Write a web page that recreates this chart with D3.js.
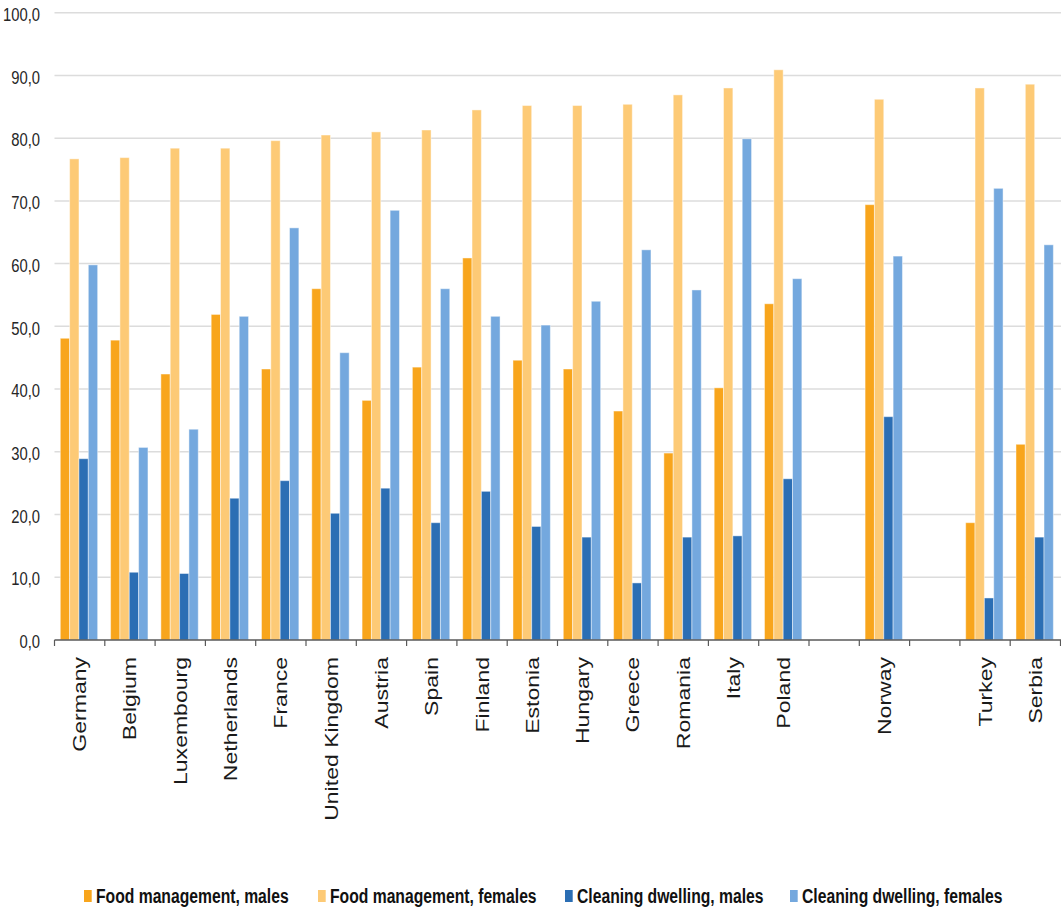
<!DOCTYPE html>
<html>
<head>
<meta charset="utf-8">
<script src="https://cdn.jsdelivr.net/npm/d3@7"></script>
<style>
  html, body { margin: 0; padding: 0; background: #fff; }
  svg { display: block; }
  text { font-family: "Liberation Sans", Arial, sans-serif; }
</style>
</head>
<body>
<svg id="chart" width="1061" height="911"></svg>
<script>
// ---- data ----
const categories = ["Germany","Belgium","Luxembourg","Netherlands","France","United Kingdom","Austria","Spain","Finland","Estonia","Hungary","Greece","Romania","Italy","Poland","","Norway","","Turkey","Serbia"];
const seriesNames = ["Food management, males","Food management, females","Cleaning dwelling, males","Cleaning dwelling, females"];
const foodMales      = [48.1,47.8,42.4,51.9,43.2,56.0,38.2,43.5,60.9,44.6,43.2,36.5,29.8,40.2,53.6,null,69.4,null,18.7,31.2];
const foodFemales    = [76.7,76.9,78.4,78.4,79.6,80.5,81.0,81.3,84.5,85.2,85.2,85.4,86.9,88.0,90.9,null,86.2,null,88.0,88.6];
const cleaningMales  = [28.9,10.8,10.6,22.6,25.4,20.2,24.2,18.7,23.7,18.1,16.4,9.1,16.4,16.6,25.7,null,35.6,null,6.7,16.4];
const cleaningFemales= [59.8,30.7,33.6,51.6,65.7,45.8,68.5,56.0,51.6,50.2,54.0,62.2,55.8,79.9,57.6,null,61.2,null,72.0,63.0];
const yTicks = [0,10,20,30,40,50,60,70,80,90,100];
const colors = ["#F8A51C","#FDCA76","#2B6EB4","#74A8DE"];

const series = [foodMales, foodFemales, cleaningMales, cleaningFemales];

// ---- layout ----
const svg = d3.select("#chart");
const plotLeft = 54.5, plotRight = 1060.5, plotTop = 12.7, plotBottom = 640;
const vStretch = 1.28;

const x = d3.scaleBand().domain(d3.range(categories.length)).range([plotLeft, plotRight]).padding(0);
const xs = d3.scaleBand().domain(d3.range(series.length))
  .range([x.bandwidth() * 0.115, x.bandwidth() * 0.858]).padding(0);
const y = d3.scaleLinear().domain([0, 100]).range([plotBottom, plotTop]);

// gridlines
svg.append("g").selectAll("line").data(yTicks.filter(d => d > 0)).join("line")
  .attr("x1", plotLeft).attr("x2", 1061)
  .attr("y1", d => y(d)).attr("y2", d => y(d))
  .attr("stroke", "#dcdcdc").attr("stroke-width", 1.5);

// y tick labels
const fmt = d => d.toFixed(1).replace(".", ",");
svg.append("g").selectAll("text").data(yTicks).join("text")
  .attr("transform", d => `translate(40,${y(d) + 8.2}) scale(1,${vStretch})`)
  .attr("text-anchor", "end")
  .attr("font-size", 14.8)
  .attr("fill", "#262626")
  .text(fmt);

// bars
const groups = svg.append("g").selectAll("g").data(categories).join("g")
  .attr("transform", (d, i) => `translate(${x(i)},0)`);
groups.selectAll("rect")
  .data((d, i) => series.map((s, k) => ({ k, v: s[i] })).filter(o => o.v != null))
  .join("rect")
  .attr("x", o => xs(o.k))
  .attr("width", xs.bandwidth())
  .attr("y", o => y(o.v))
  .attr("height", o => y(0) - y(o.v))
  .attr("fill", o => colors[o.k])
  .attr("stroke", "rgba(255,255,255,0.45)")
  .attr("stroke-width", 1);

// x axis line and ticks
svg.append("line").attr("x1", plotLeft).attr("x2", 1061).attr("y1", plotBottom).attr("y2", plotBottom)
  .attr("stroke", "#595959").attr("stroke-width", 1.5);
svg.append("g").selectAll("line").data(d3.range(categories.length + 1)).join("line")
  .attr("x1", i => plotLeft + i * x.bandwidth()).attr("x2", i => plotLeft + i * x.bandwidth())
  .attr("y1", plotBottom).attr("y2", plotBottom + 6)
  .attr("stroke", "#595959").attr("stroke-width", 1.2);

// category labels (rotated)
svg.append("g").selectAll("text").data(categories).join("text")
  .attr("transform", (d, i) => `translate(${x(i) + x.bandwidth() / 2},657) rotate(-90) scale(${vStretch},1)`)
  .attr("text-anchor", "end")
  .attr("dy", "0.36em")
  .attr("font-size", 18)
  .attr("fill", "#1a1a1a")
  .text(d => d);

// legend
const legendX = [84, 318, 565, 790];
const lg = svg.append("g").selectAll("g").data(seriesNames).join("g");
lg.append("rect")
  .attr("x", (d, i) => legendX[i]).attr("y", 890)
  .attr("width", 7.7).attr("height", 12)
  .attr("fill", (d, i) => colors[i]);
lg.append("text")
  .attr("transform", (d, i) => `translate(${legendX[i] + 12},902.5) scale(1,${vStretch})`)
  .attr("font-size", 15.7)
  .attr("font-weight", "bold")
  .attr("fill", "#111")
  .text(d => d);
</script>
</body>
</html>
